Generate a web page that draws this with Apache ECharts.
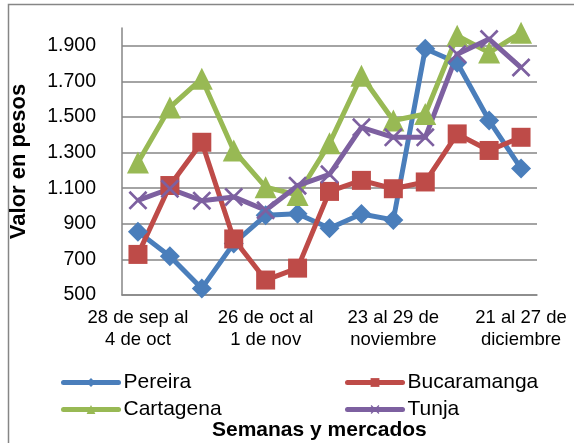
<!DOCTYPE html>
<html>
<head>
<meta charset="utf-8">
<script src="https://cdn.jsdelivr.net/npm/echarts@6/dist/echarts.min.js"></script>
<style>
  html, body { margin: 0; padding: 0; background: #fff; }
  #main { width: 574px; height: 443px; }
</style>
</head>
<body>
<div id="main"></div>
<script>
// semanas (13), etiqueta visible cada 4
var semanas = [
  '28 de sep al\n4 de oct', '5 al 11 de\noctubre', '12 al 18 de\noctubre', '19 al 25 de\noctubre',
  '26 de oct al\n1 de nov', '2 al 8 de\nnoviembre', '9 al 15 de\nnoviembre', '16 al 22 de\nnoviembre',
  '23 al 29 de\nnoviembre', '30 de nov al\n6 de dic', '7 al 13 de\ndiciembre', '14 al 20 de\ndiciembre',
  '21 al 27 de\ndiciembre'
];
var pereira     = [855, 718, 537, 790, 948, 957, 875, 955, 922, 1883, 1805, 1480, 1211];
var bucaramanga = [728, 1115, 1358, 815, 584, 651, 1082, 1144, 1097, 1135, 1405, 1312, 1386];
var cartagena   = [1245, 1554, 1715, 1312, 1106, 1062, 1352, 1732, 1480, 1517, 1956, 1862, 1974];
var tunja       = [1032, 1097, 1030, 1051, 976, 1114, 1178, 1442, 1386, 1386, 1853, 1938, 1778];

var myChart = echarts.init(document.getElementById('main'));

var xMark = 'path://M0,0.1L0.1,0L0.5,0.4L0.9,0L1,0.1L0.6,0.5L1,0.9L0.9,1L0.5,0.6L0.1,1L0,0.9L0.4,0.5Z';

function fmt(v) {
  if (v >= 1000) {
    return Math.floor(v / 1000) + '.' + String(v % 1000).padStart(3, '0');
  }
  return String(v);
}

function serie(name, data, color, symbol, size) {
  return {
    name: name,
    type: 'line',
    data: data,
    symbol: symbol,
    symbolSize: size,
    showAllSymbol: true,
    lineStyle: { color: color, width: 5, join: 'round' },
    itemStyle: { color: color },
    z: 2
  };
}

var txt = { fontFamily: 'Liberation Sans', color: '#000' };

function leyenda(name, left, top) {
  return {
    data: [name],
    left: left,
    top: top,
    padding: 0,
    itemWidth: 55,
    itemHeight: 11,
    itemGap: 4,
    lineStyle: { width: 5, cap: 'round' },
    textStyle: { fontFamily: 'Liberation Sans', color: '#000', fontSize: 21 }
  };
}

var option = {
  animation: false,
  backgroundColor: '#fff',
  textStyle: { fontFamily: 'Liberation Sans' },
  grid: { left: 118, right: 37, top: 28, bottom: 148 },
  title: {
    text: 'Semanas y mercados',
    left: 212,
    top: 420,
    padding: 0,
    textStyle: { fontFamily: 'Liberation Sans', fontWeight: 'bold', fontSize: 21, color: '#000' }
  },
  legend: [
    leyenda('Pereira', 61, 372),
    leyenda('Bucaramanga', 345, 372),
    leyenda('Cartagena', 61, 399),
    leyenda('Tunja', 345, 399)
  ],
  xAxis: {
    type: 'category',
    data: semanas,
    boundaryGap: true,
    axisLine: { lineStyle: { color: '#868686', width: 1.5 } },
    axisTick: { show: false },
    axisLabel: Object.assign({}, txt, { interval: 3, fontSize: 18.5, lineHeight: 22, margin: 12 })
  },
  yAxis: {
    type: 'value',
    min: 500,
    max: 2000,
    interval: 200,
    name: 'Valor en pesos',
    nameLocation: 'middle',
    nameRotate: 90,
    nameGap: 92,
    nameTextStyle: { fontFamily: 'Liberation Sans', fontWeight: 'bold', fontSize: 22, color: '#000' },
    axisLine: { show: true, lineStyle: { color: '#868686', width: 1.5 } },
    axisTick: { show: false },
    splitLine: { show: true, showMaxLine: false, lineStyle: { color: '#868686', width: 1.5 } },
    axisLabel: Object.assign({}, txt, { fontSize: 19.5, margin: 26, showMaxLabel: false, formatter: fmt })
  },
  graphic: [{
    type: 'rect',
    shape: { x: 8.5, y: 4.5, width: 570, height: 450 },
    style: { fill: 'none', stroke: '#868686', lineWidth: 1.5 },
    silent: true
  }],
  series: [
    serie('Pereira', pereira, '#4A7EBB', 'diamond', 20),
    serie('Bucaramanga', bucaramanga, '#BE4B48', 'rect', 19),
    serie('Cartagena', cartagena, '#98B954', 'triangle', 22),
    serie('Tunja', tunja, '#7D60A0', xMark, 19)
  ]
};

myChart.setOption(option);
</script>
</body>
</html>
